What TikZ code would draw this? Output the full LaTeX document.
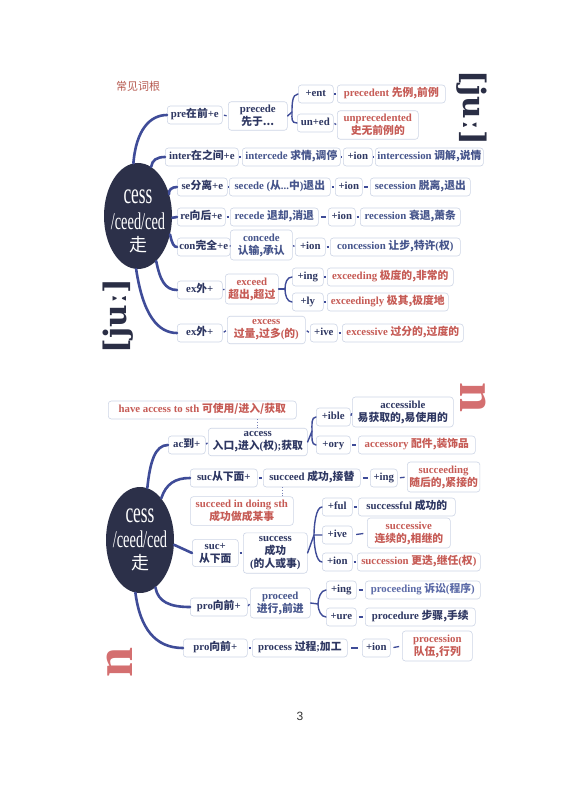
\documentclass[tikz,border=0pt]{standalone}
\usepackage{fontspec}
\setmainfont{Liberation Serif}
\newfontfamily\zhfont{Noto Sans CJK SC}
\newfontfamily\ipafont{DejaVu Serif}
\newfontfamily\condfont[FakeStretch=0.6]{Liberation Serif}
\newfontfamily\pgfont{Liberation Sans}
\usetikzlibrary{calc,shapes.geometric}
\newcommand\zh[1]{{\zhfont #1}}
\definecolor{navy}{HTML}{2E3762}
\definecolor{blu}{HTML}{46558C}
\definecolor{redc}{HTML}{C65B55}
\definecolor{lnk}{HTML}{3F4C98}
\definecolor{boxc}{HTML}{CDD5E6}
\definecolor{ell}{HTML}{2C3049}
\definecolor{pbl}{HTML}{5C6BA8}
\definecolor{ttl}{HTML}{B65A50}
\definecolor{phc}{HTML}{2A2E45}
\definecolor{phr}{HTML}{D46F70}
\newcommand\dl[2]{\draw[dsh] ($(#1.east)!0.25!(#2.west)$) -- ($(#1.east)!0.75!(#2.west)$);}
\tikzset{
 bx/.style={draw=boxc, line width=0.6pt, rounded corners=3pt, inner xsep=2pt, inner ysep=3.5pt, fill=white, font=\fontsize{10.8}{13}\selectfont\bfseries, text=navy, align=center, anchor=west},
 one/.style={text height=8pt, text depth=3pt},
 rd/.style={text=redc},
 bl/.style={text=blu},
 pb/.style={text=pbl},
 curv/.style={draw=lnk, line width=2.6pt, line cap=round},
 brl/.style={draw=lnk, line width=1.4pt, line cap=round},
 dsh/.style={draw=lnk, line width=1.3pt},
 dotl/.style={draw=lnk!70, line width=0.7pt, dotted},
 ellp/.style={ellipse, fill=ell, minimum width=68pt, minimum height=106pt, inner sep=0pt},
 ela/.style={text=white, font=\condfont\fontsize{29}{30}\selectfont, inner sep=0pt},
 elb/.style={text=white, font=\condfont\fontsize{24}{26}\selectfont, inner sep=0pt},
 elc/.style={text=white, font=\zhfont\fontsize{18}{20}\selectfont, inner sep=0pt},
 ipa/.style={font=\ipafont\bfseries\fontsize{31}{33}\selectfont, text=phc},
 nph/.style={font=\bfseries\fontsize{54}{54}\selectfont, text=phr},
 w/.style={minimum width=#1 pt},
}
\begin{document}
\begin{tikzpicture}[x=1pt,y=-1pt]
\useasboundingbox (0,0) rectangle (562,794);
\fill[white] (0,0) rectangle (562,794);

% ===== top =====
\node[font=\zhfont\fontsize{11}{13}\selectfont, text=ttl] (title) at (138,86) {常见词根};
\node[ellp] (E1) at (138,216) {};
\node[ela] (E1a) at (138,197) {cess};
\node[elb] (E1b) at (138,221) {/ceed/ced};
\node[elc] (E1c) at (138,245) {走};

\node[bx,one,w=55] (pre) at (167,115) {pre\zh{在前}+e};
\node[bx,w=59] (precede) at (228,116) {precede\\\zh{先于...}};
\node[bx,one,w=35] (ent) at (298,94) {+ent};
\node[bx,one,w=36] (uned) at (297,123) {un+ed};
\node[bx,one,rd,w=108] (precedent) at (337,94) {precedent \zh{先例,前例}};
\node[bx,rd,w=81] (unprec) at (337,125) {unprecedented\\\zh{史无前例的}};

\node[bx,one,w=73] (inter) at (165,157) {inter\zh{在之间}+e};
\node[bx,one,bl,w=98] (intercede) at (242,157) {intercede \zh{求情,调停}};
\node[bx,one,w=29] (ion1) at (343,157) {+ion};
\node[bx,one,bl,w=103] (intercession) at (375,157) {intercession \zh{调解,说情}};

\node[bx,one,w=50] (se) at (177,187) {se\zh{分离}+e};
\node[bx,one,bl,w=101] (secede) at (229,187) {secede (\zh{从}...\zh{中})\zh{退出}};
\node[bx,one,w=27] (ion2) at (335,187) {+ion};
\node[bx,one,bl,w=100] (secession) at (370,187) {secession \zh{脱离,退出}};

\node[bx,one,w=48] (re) at (177,217) {re\zh{向后}+e};
\node[bx,one,bl,w=88] (recede) at (230,217) {recede \zh{退却,消退}};
\node[bx,one,w=27] (ion3) at (328,217) {+ion};
\node[bx,one,bl,w=100] (recession) at (360,217) {recession \zh{衰退,萧条}};

\node[bx,one,w=50] (con) at (177,247) {con\zh{完全}+e};
\node[bx,bl,w=62] (concede) at (230,245) {concede\\\zh{认输,承认}};
\node[bx,one,w=30] (ion4) at (295,247) {+ion};
\node[bx,one,bl,w=130] (concession) at (330,247) {concession \zh{让步,特许}(\zh{权})};

\node[bx,one,w=45] (ex1) at (177,290) {ex\zh{外}+};
\node[bx,rd,w=53] (exceed) at (225,289) {exceed\\\zh{超出,超过}};
\node[bx,one,w=31] (ing1) at (292,277) {+ing};
\node[bx,one,w=31] (ly) at (292,302) {+ly};
\node[bx,one,rd,w=126] (exceeding) at (327,277) {exceeding \zh{极度的,非常的}};
\node[bx,one,rd,w=121] (exceedingly) at (327,302) {exceedingly \zh{极其,极度地}};

\node[bx,one,w=45] (ex2) at (177,333) {ex\zh{外}+};
\node[bx,rd,w=78] (excess) at (227,330) {excess\\\zh{过量,过多}(\zh{的})};
\node[bx,one,w=27] (ive1) at (310,333) {+ive};
\node[bx,one,rd,w=121] (excessive) at (342,333) {excessive \zh{过分的,过度的}};

\draw[curv] (E1.95) .. controls (136,130) and (150,115) .. (pre.west);
\draw[curv] (E1.75) .. controls (152,160) and (157,157) .. (inter.west);
\draw[curv] (E1.35) .. controls (168,190) and (172,187) .. (se.west);
\draw[curv] (E1.-3) -- (re.west);
\draw[curv] (E1.-30) .. controls (172,244) and (174,247) .. (con.west);
\draw[curv] (E1.-68) .. controls (160,280) and (165,290) .. (ex1.west);
\draw[curv] (E1.-92) .. controls (143,315) and (158,333) .. (ex2.west);

\dl{pre}{precede}
\coordinate (b1) at (292,112);
\draw[brl] (precede.east) -- (b1);
\draw[brl] (ent.west) .. controls +(-6,0) and +(0,-7) .. (b1) .. controls +(0,7) and +(-6,0) .. (uned.west);
\dl{ent}{precedent}
\dl{uned}{unprec}
\dl{inter}{intercede}\dl{intercede}{ion1}\dl{ion1}{intercession}
\dl{se}{secede}\dl{secede}{ion2}\dl{ion2}{secession}
\dl{re}{recede}\dl{recede}{ion3}\dl{ion3}{recession}
\dl{con}{concede}\dl{concede}{ion4}\dl{ion4}{concession}
\dl{ex1}{exceed}
\coordinate (b2) at (285,289);
\draw[brl] (exceed.east) -- (b2);
\draw[brl] (ing1.west) .. controls +(-5,0) and +(0,-6) .. (b2) .. controls +(0,6) and +(-5,0) .. (ly.west);
\dl{ing1}{exceeding}\dl{ly}{exceedingly}
\dl{ex2}{excess}\dl{excess}{ive1}\dl{ive1}{excessive}

\node[ipa, rotate=-90] (ph1) at (472,108) {[juː]};
\node[ipa, rotate=90] (ph2) at (118,316) {[juː]};

% ===== bottom =====
\node[bx,one,rd,w=188] (have) at (108,410) {have access to sth \zh{可使用/进入/获取}};
\node[ellp] (E2) at (140,540) {};
\node[ela] (E2a) at (140,516) {cess};
\node[elb] (E2b) at (140,539) {/ceed/ced};
\node[elc] (E2c) at (140,563) {走};

\node[bx,one,w=37] (ac) at (168,445) {ac\zh{到}+};
\node[bx,w=99] (access) at (208,442) {access\\\zh{入口,进入}(\zh{权});\zh{获取}};
\node[bx,one,w=34] (ible) at (316,417) {+ible};
\node[bx,w=101] (accessible) at (352,412) {accessible\\\zh{易获取的,易使用的}};
\node[bx,one,w=34] (ory) at (316,445) {+ory};
\node[bx,one,rd,w=117] (accessory) at (358,445) {accessory \zh{配件,装饰品}};

\node[bx,one,w=67] (suc1) at (190,478) {suc\zh{从下面}+};
\node[bx,one,w=97] (succeed) at (263,478) {succeed \zh{成功,接替}};
\node[bx,one,w=27] (ing2) at (370,478) {+ing};
\node[bx,rd,w=71] (succeeding) at (407,477) {succeeding\\\zh{随后的,紧接的}};

\node[bx,rd,w=103] (sidr) at (190,511) {succeed in doing sth\\\zh{成功做成某事}};

\node[bx,w=46] (suc2) at (192,553) {suc+\\\zh{从下面}};
\node[bx,w=64] (success) at (243,553) {success\\\zh{成功}\\(\zh{的人或事})};
\node[bx,one,w=30] (ful) at (322,507) {+ful};
\node[bx,one,w=30] (ive2) at (322,535) {+ive};
\node[bx,one,w=30] (ion5) at (322,562) {+ion};
\node[bx,one,w=97] (successful) at (358,507) {successful \zh{成功的}};
\node[bx,rd,w=83] (successive) at (367,533) {successive\\\zh{连续的,相继的}};
\node[bx,one,rd,w=123] (succession) at (357,562) {succession \zh{更迭,继任}(\zh{权})};

\node[bx,one,w=57] (pro1) at (190,607) {pro\zh{向前}+};
\node[bx,bl,w=60] (proceed) at (250,603) {proceed\\\zh{进行,前进}};
\node[bx,one,w=30] (ing3) at (326,590) {+ing};
\node[bx,one,w=30] (ure) at (326,617) {+ure};
\node[bx,one,pb,w=115] (proceeding) at (365,590) {proceeding \zh{诉讼}(\zh{程序})};
\node[bx,one,w=110] (procedure) at (365,617) {procedure \zh{步骤,手续}};

\node[bx,one,w=64] (pro2) at (183,648) {pro\zh{向前}+};
\node[bx,one,w=95] (process) at (252,648) {process \zh{过程};\zh{加工}};
\node[bx,one,w=28] (ion6) at (362,648) {+ion};
\node[bx,rd,w=70] (procession) at (402,646) {procession\\\zh{队伍,行列}};

\draw[curv] (E2.82) .. controls (150,462) and (155,445) .. (ac.west);
\draw[curv] (E2.63) .. controls (166,484) and (175,478) .. (suc1.west);
\draw[curv] (E2.-8) -- (suc2.west);
\draw[curv] (E2.-72) .. controls (158,602) and (170,607) .. (pro1.west);
\draw[curv] (E2.-95) .. controls (140,628) and (155,648) .. (pro2.west);

\draw[dotl] (access.north |- have.south) -- (access.north);
\coordinate (dd) at (282,0);
\draw[dotl] (dd |- succeed.south) -- (dd |- sidr.north);

\dl{ac}{access}
\coordinate (b3) at (312,431);
\draw[brl] (access.east) -- (b3);
\draw[brl] (ible.west) .. controls +(-5,0) and +(0,-6) .. (b3) .. controls +(0,6) and +(-5,0) .. (ory.west);
\dl{ible}{accessible}\dl{ory}{accessory}
\dl{suc1}{succeed}\dl{succeed}{ing2}\dl{ing2}{succeeding}
\dl{suc2}{success}
\coordinate (b4) at (314,535);
\draw[brl] (success.east) -- (b4) -- (ive2.west);
\draw[brl] (ful.west) .. controls +(-6,0) and +(0,-10) .. (b4) .. controls +(0,10) and +(-6,0) .. (ion5.west);
\dl{ful}{successful}\dl{ive2}{successive}\dl{ion5}{succession}
\dl{pro1}{proceed}
\coordinate (b5) at (318,604);
\draw[brl] (proceed.east) -- (b5);
\draw[brl] (ing3.west) .. controls +(-5,0) and +(0,-6) .. (b5) .. controls +(0,6) and +(-5,0) .. (ure.west);
\dl{ing3}{proceeding}\dl{ure}{procedure}
\dl{pro2}{process}\dl{process}{ion6}\dl{ion6}{procession}

\node[nph, rotate=-90] (ph3) at (473,398) {n};
\node[nph, rotate=90] (ph4) at (120,662) {n};

\node[font=\pgfont\fontsize{12}{14}\selectfont, text=black!80] (pg) at (300,716) {3};
\end{tikzpicture}
\end{document}
